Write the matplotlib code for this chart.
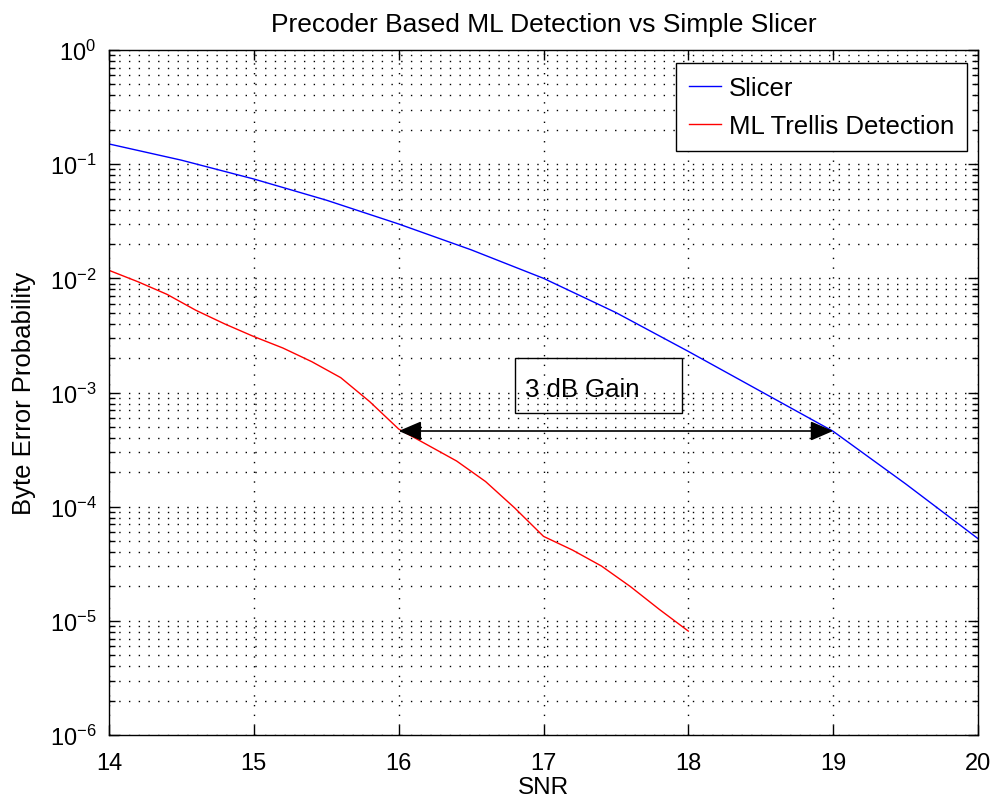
import matplotlib
matplotlib.use("Agg")
import matplotlib.pyplot as plt
import numpy as np
from matplotlib.ticker import LogLocator, FixedLocator, NullFormatter
from matplotlib.patches import Rectangle

plt.rcParams['font.family'] = ['Liberation Sans', 'DejaVu Sans']
plt.rcParams['mathtext.default'] = 'regular'

# ---- data ----
snr_slicer = [14.0, 14.5, 15.0, 15.5, 16.0, 16.5, 17.0, 17.5, 18.0, 18.5, 19.0, 19.5, 20.0]
log_ber_slicer = [-0.823, -0.965, -1.13, -1.315, -1.524, -1.75, -2.0, -2.30, -2.64, -2.99, -3.34, -3.80, -4.28]

snr_ml = [14.0, 14.2, 14.4, 14.6, 14.8, 15.0, 15.2, 15.4, 15.6, 15.8, 16.0,
          16.2, 16.4, 16.6, 16.8, 17.0, 17.2, 17.4, 17.6, 17.8, 18.0]
log_ber_ml = [-1.93, -2.03, -2.14, -2.28, -2.40, -2.51, -2.61, -2.73, -2.87, -3.08, -3.32,
              -3.46, -3.60, -3.78, -4.01, -4.26, -4.38, -4.52, -4.70, -4.90, -5.09]

ber_slicer = [10 ** v for v in log_ber_slicer]
ber_ml = [10 ** v for v in log_ber_ml]

series_labels = ["Slicer", "ML Trellis Detection"]
x_ticks = [14, 15, 16, 17, 18, 19, 20]
annot_text = "3 dB Gain"
arrow_x = [16.0, 19.0]
arrow_y = 4.6e-4
box_x = [16.803, 17.956]
box_y = [6.62e-4, 2.01e-3]
text_pos = (16.87, 1.08e-3)

# ---- figure ----
fig = plt.figure(figsize=(9.92, 8.03), dpi=100)
ax = fig.add_axes([109 / 992, 1 - 736 / 803, (978 - 109) / 992, (736 - 51) / 803])

ax.plot(snr_slicer, ber_slicer, color=(0, 0, 1), lw=1.0, label=series_labels[0])
ax.plot(snr_ml, ber_ml, color=(1, 0, 0), lw=1.0, label=series_labels[1])

ax.set_yscale('log')
ax.set_xlim(14, 20)
ax.set_ylim(1e-6, 1)
ax.xaxis.set_major_locator(FixedLocator(x_ticks))
ax.yaxis.set_major_locator(LogLocator(base=10, numticks=20))
ax.yaxis.set_minor_locator(LogLocator(base=10, subs=np.arange(2, 10), numticks=100))
ax.yaxis.set_minor_formatter(NullFormatter())

dot = (0, (1, 6))
ax.grid(True, which='major', axis='both', color='black', linestyle=dot, lw=1.0)
ax.grid(True, which='minor', axis='y', color='black', linestyle=dot, lw=1.0)

ax.tick_params(which='both', direction='in', top=True, right=True, width=1.0)
ax.tick_params(which='major', length=7, labelsize=17)
ax.tick_params(axis='x', which='major', pad=12)
ax.tick_params(axis='y', which='major', pad=9)
ax.tick_params(which='minor', length=4)
for s in ax.spines.values():
    s.set_linewidth(1.0)

ax.set_title("Precoder Based ML Detection vs Simple Slicer", fontsize=19, pad=14)
ax.set_xlabel("SNR", fontsize=17.5, labelpad=2)
ax.set_ylabel("Byte Error Probability", fontsize=18.5, labelpad=10)

leg = ax.legend(loc='upper right', bbox_to_anchor=(0.9873, 0.981), borderaxespad=0,
                fontsize=18.5, fancybox=False, edgecolor='black', framealpha=1,
                handlelength=1.25, borderpad=0.5, labelspacing=0.55, handletextpad=0.3)
leg.get_frame().set_linewidth(1.0)

# annotation: double arrow + text box
ax.annotate("", xy=(arrow_x[0], arrow_y), xytext=(arrow_x[1], arrow_y),
            arrowprops=dict(arrowstyle='<|-|>,head_length=0.7,head_width=0.3',
                            color='black', lw=1.2, shrinkA=0, shrinkB=0,
                            mutation_scale=20))
ax.add_patch(Rectangle((box_x[0], box_y[0]), box_x[1] - box_x[0], box_y[1] - box_y[0],
                       fill=False, edgecolor='black', lw=1.0))
ax.text(text_pos[0], text_pos[1], annot_text, fontsize=18.5, ha='left', va='center')

fig.savefig("out.png", dpi=100)
